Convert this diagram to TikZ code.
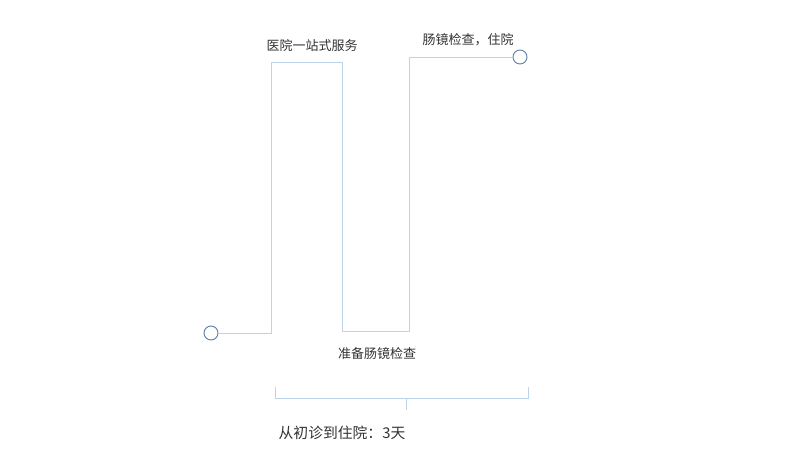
\documentclass[tikz,border=0pt]{standalone}
\usepackage{fontspec}
\newfontfamily\cjk{Noto Sans CJK SC}
\definecolor{pathc}{HTML}{BDD3EA}
\definecolor{circc}{HTML}{5A7FAA}
\definecolor{txtc}{HTML}{333333}
\begin{document}
\begin{tikzpicture}[x=1pt,y=-1pt,
  endpt/.style={circle,draw=circc,line width=0.9pt,minimum size=14pt,inner sep=0pt,fill=white},
  pathline/.style={draw=pathc,line width=1pt},
  lbl/.style={text=txtc,font=\cjk\fontsize{13}{15}\selectfont,inner sep=0pt}]
\useasboundingbox[fill=white] (0,0) rectangle (800,450);
\node[endpt] (s) at (211,333) {};
\node[endpt] (e) at (520,57) {};
\coordinate (p1) at (271,333);
\coordinate (p2) at (271,62);
\coordinate (p3) at (342,62);
\coordinate (p4) at (342,331);
\coordinate (p5) at (409,331);
\coordinate (p6) at (409,57);
\draw[pathline] (s) -- (p1) -- (p2) -- (p3) -- (p4) -- (p5) -- (p6) -- (e);
\node[lbl] (t1) at (312,46) {医院一站式服务};
\node[lbl] (t2) at (468,40) {肠镜检查，住院};
\node[lbl] (t3) at (377,354) {准备肠镜检查};
\coordinate (b1) at (275,387);
\coordinate (b2) at (275,398);
\coordinate (b3) at (528,398);
\coordinate (b4) at (528,387);
\coordinate (bm) at (406,398);
\coordinate (bt) at (406,410);
\draw[pathline] (b1) -- (b2) -- (b3) -- (b4);
\draw[pathline] (bm) -- (bt);
\node[lbl,font=\cjk\fontsize{14.8}{17}\selectfont] (t4) at (342,433) {从初诊到住院：3天};
\end{tikzpicture}
\end{document}
